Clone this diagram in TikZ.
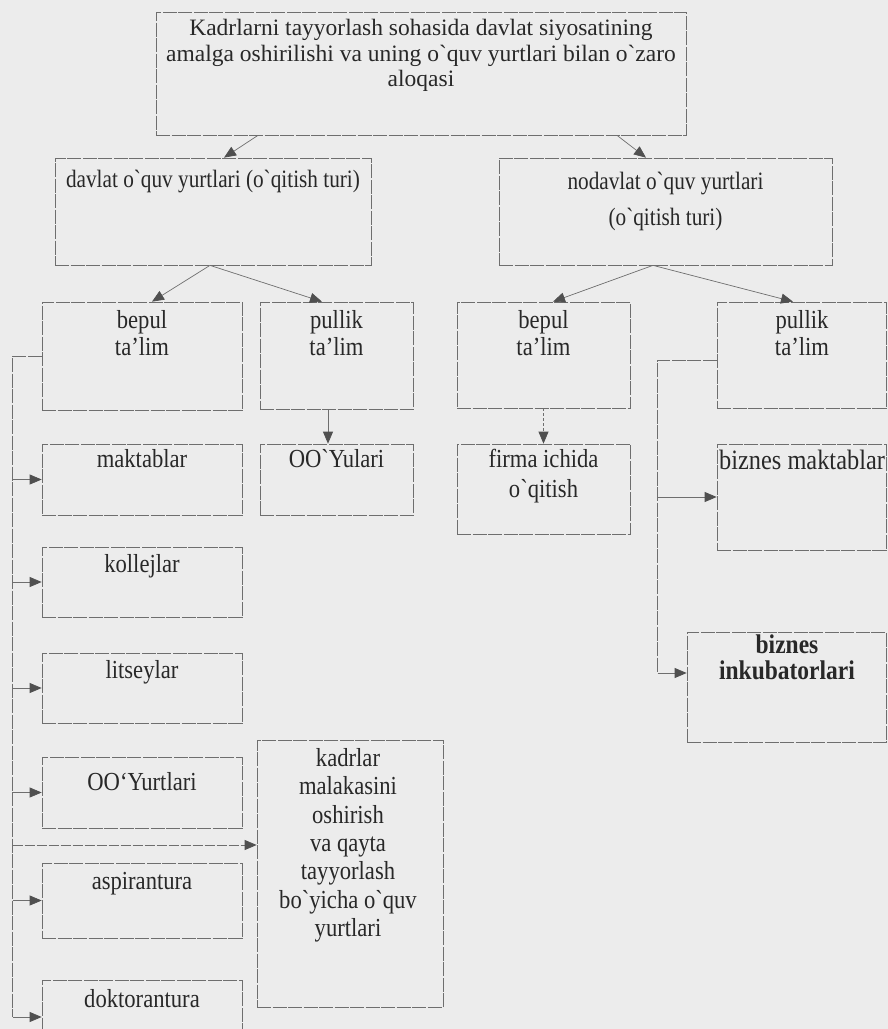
\documentclass[tikz,border=0pt]{standalone}
\usepackage{fontspec}
\setmainfont{Liberation Serif}
\newfontfamily\condA[FakeStretch=0.87]{Liberation Serif}
\newfontfamily\condB[FakeStretch=0.85]{Liberation Serif}
\newfontfamily\plainser{Liberation Serif}
\usetikzlibrary{arrows.meta,calc}
\definecolor{bg}{RGB}{236,236,236}
\definecolor{ink}{RGB}{40,40,40}
\definecolor{ln}{RGB}{110,110,110}
\definecolor{tipc}{RGB}{80,80,80}
\begin{document}
\begin{tikzpicture}[x=1pt,y=-1pt,
  box/.style={draw=ln, line width=0.7pt, dash pattern=on 14pt off 1.5pt, rectangle, inner sep=0pt},
  txt/.style={anchor=north, align=center, inner sep=0pt, text=ink, font=\condA\fontsize{26}{27}\selectfont},
  arr/.style={draw=ln, line width=0.7pt, -{Triangle[length=12pt,width=10pt,color=tipc]}},
  trunk/.style={draw=ln, line width=0.7pt, dash pattern=on 14pt off 1.5pt}]
\useasboundingbox (0,0) rectangle (888,1029);
\fill[bg] (0,0) rectangle (888,1029);
\clip (0,0) rectangle (888,1029);

% boxes
\node[box, minimum width=530pt, minimum height=123pt] (top) at (421,73.5) {};
\node[box, minimum width=316pt, minimum height=107pt] (davlat) at (213,211.5) {};
\node[box, minimum width=333pt, minimum height=107pt] (nodavlat) at (665.5,211.5) {};
\node[box, minimum width=200pt, minimum height=108pt] (bepulA) at (142,356) {};
\node[box, minimum width=153pt, minimum height=107pt] (pullikA) at (336.5,355.5) {};
\node[box, minimum width=173pt, minimum height=106pt] (bepulB) at (543.5,355) {};
\node[box, minimum width=169pt, minimum height=106pt] (pullikB) at (801.5,355) {};
\node[box, minimum width=200pt, minimum height=71pt] (maktab) at (142,479.5) {};
\node[box, minimum width=153pt, minimum height=71pt] (ooyul) at (336.5,479.5) {};
\node[box, minimum width=173pt, minimum height=90pt] (firma) at (543.5,489) {};
\node[box, minimum width=169pt, minimum height=106pt] (bizmak) at (801.5,497) {};
\node[box, minimum width=200pt, minimum height=70pt] (kollej) at (142,582) {};
\node[box, minimum width=200pt, minimum height=70pt] (litsey) at (142,688) {};
\node[box, minimum width=200pt, minimum height=71pt] (ooyurt) at (142,792.5) {};
\node[box, minimum width=200pt, minimum height=75pt] (aspir) at (142,900.5) {};
\node[box, minimum width=200pt, minimum height=74pt] (doktor) at (142,1017) {};
\node[box, minimum width=186pt, minimum height=267pt] (kadr) at (350,873.5) {};
\node[box, minimum width=199pt, minimum height=110pt] (inkub) at (786.5,687) {};

% texts
\node[txt, font=\plainser\fontsize{23.5}{25.5}\selectfont] (t-top) at (421,19) {Kadrlarni tayyorlash sohasida davlat siyosatining\\amalga oshirilishi va uning o`quv yurtlari bilan o`zaro\\aloqasi};
\node[txt, font=\condB\fontsize{25}{27}\selectfont] (t-davlat) at (213,170) {davlat o`quv yurtlari (o`qitish turi)};
\node[txt, font=\condB\fontsize{25}{36}\selectfont] (t-nodavlat) at (665.5,172) {nodavlat o`quv yurtlari\\(o`qitish turi)};
\node[txt] (t-bepulA) at (142,310) {bepul\\ta’lim};
\node[txt] (t-pullikA) at (336.5,310) {pullik\\ta’lim};
\node[txt] (t-bepulB) at (543.5,310) {bepul\\ta’lim};
\node[txt] (t-pullikB) at (802,310) {pullik\\ta’lim};
\node[txt] (t-maktab) at (142,449) {maktablar};
\node[txt] (t-ooyul) at (336.5,449) {OO`Yulari};
\node[txt, font=\condA\fontsize{26}{30}\selectfont] (t-firma) at (543.5,449) {firma ichida\\o`qitish};
\node[txt, anchor=north west, font=\condA\fontsize{28}{28}\selectfont] (t-bizmak) at (719,450) {biznes maktablar};
\node[txt] (t-kollej) at (142,554) {kollejlar};
\node[txt] (t-litsey) at (142,660) {litseylar};
\node[txt] (t-ooyurt) at (142,772) {OO‘Yurtlari};
\node[txt] (t-aspir) at (142,872) {aspirantura};
\node[txt] (t-doktor) at (142,989) {doktorantura};
\node[txt, font=\condA\fontsize{26}{28.4}\selectfont] (t-kadr) at (348,748) {kadrlar\\malakasini\\oshirish\\va qayta\\tayyorlash\\bo`yicha o`quv\\yurtlari};
\node[txt, font=\condA\fontsize{27}{26}\selectfont\bfseries] (t-inkub) at (787,635) {biznes\\inkubatorlari};

% connectors
\draw[arr] ([xshift=-163pt]top.south) -- ([xshift=11pt]davlat.north);
\draw[arr] ([xshift=196pt]top.south) -- ([xshift=-19.5pt]nodavlat.north);
\draw[arr] ([xshift=-3pt]davlat.south) -- ([xshift=10pt]bepulA.north);
\draw[arr] ([xshift=-3pt]davlat.south) -- ([xshift=-14.5pt]pullikA.north);
\draw[arr] ([xshift=-12.5pt]nodavlat.south) -- ([xshift=9.5pt]bepulB.north);
\draw[arr] ([xshift=-12.5pt]nodavlat.south) -- ([xshift=-8.5pt]pullikB.north);
\draw[arr] ([xshift=-8.5pt]pullikA.south) -- ([xshift=-8.5pt]ooyul.north);
\draw[arr, dash pattern=on 3pt off 2pt] (bepulB.south) -- (firma.north);

% left bracket
\coordinate (L) at ([xshift=-29pt]bepulA.west);
\draw[trunk] (bepulA.west) -- (L) -- (L |- doktor.west);
\draw[arr] (L |- maktab.west) -- (maktab.west);
\draw[arr] (L |- kollej.west) -- (kollej.west);
\draw[arr] (L |- litsey.west) -- (litsey.west);
\draw[arr] (L |- ooyurt.west) -- (ooyurt.west);
\draw[arr] (L |- aspir.west) -- (aspir.west);
\draw[arr] (L |- doktor.west) -- (doktor.west);
\coordinate (KA) at ([yshift=28.5pt]kadr.west);
\draw[arr, dash pattern=on 10pt off 2pt] (L |- KA) -- (KA);

% right bracket
\coordinate (RS) at ([yshift=-5pt]pullikB.west);
\coordinate (R) at ([xshift=-59pt]RS);
\coordinate (IA) at ([yshift=14pt]inkub.west);
\draw[trunk] (RS) -- (R) -- (R |- IA);
\draw[arr] (R |- bizmak.west) -- (bizmak.west);
\draw[arr] (R |- IA) -- (IA);
\end{tikzpicture}
\end{document}
